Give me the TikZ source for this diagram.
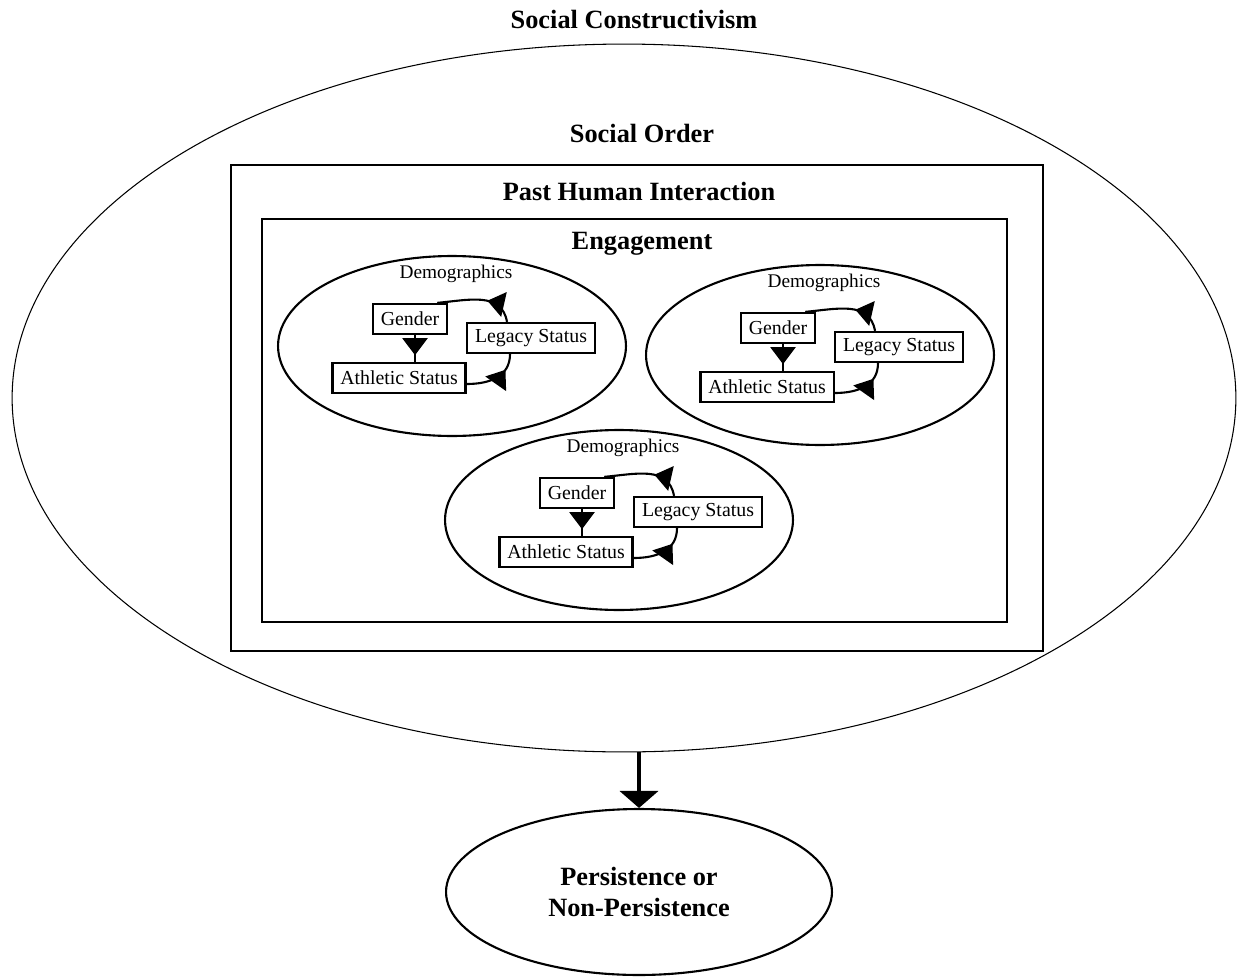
\documentclass[tikz,border=0pt]{standalone}
\usepackage{fontspec}
\setmainfont{Liberation Serif}
\usetikzlibrary{shapes.geometric,arrows.meta,decorations.markings,calc}
\newcommand\demogroup[3]{%
  \node[demo] (dm#1) at (#2,#3) {};
  \node[lbl] (dt#1) at ([shift={(4,-72)}]dm#1.center) {Demographics};
  \node[tbox] (gen#1) at ([shift={(-42,-27)}]dm#1.center) {Gender};
  \node[tbox] (leg#1) at ([shift={(79,-8)}]dm#1.center) {Legacy Status};
  \node[tbox] (ath#1) at ([shift={(-53,32)}]dm#1.center) {Athletic Status};
  \coordinate (gs#1) at ([xshift=0.1cm]gen#1.south);
  \draw[conn, midtip=0.75] (gs#1) -- (gs#1 |- ath#1.north);
  \draw[conn, midtip=0.72] ([yshift=-0.12cm]ath#1.east) to[out=0,in=-90,looseness=1.1] ([xshift=-0.42cm]leg#1.south);
  \draw[conn, midtip=0.38] ([xshift=-0.48cm]leg#1.north) to[out=100,in=5,looseness=1.1] ([xshift=-0.22cm]gen#1.north east);
}
\begin{document}
\begin{tikzpicture}[x=0.02cm,y=-0.02cm,
  title/.style={font=\fontsize{15}{18}\selectfont\bfseries, inner sep=0pt},
  demo/.style={ellipse, draw, line width=1.2pt, minimum width=6.96cm, minimum height=3.6cm, inner sep=0pt},
  lbl/.style={font=\fontsize{11}{13}\selectfont, inner sep=0pt},
  tbox/.style={draw, fill=white, line width=1.3pt, font=\fontsize{11.3}{13}\selectfont, inner xsep=4.5pt, inner ysep=0pt, minimum height=0.6cm},
  conn/.style={line width=1.2pt},
  bigarrow/.style={-{Triangle[width=0.76cm,length=0.34cm]}, line width=2.8pt},
  midtip/.style={postaction={decorate}, decoration={markings, mark=at position #1 with {\arrow{Triangle[width=0.5cm,length=0.34cm]}}}},
  frame/.style={draw, line width=1.5pt, inner sep=0pt}
]
\useasboundingbox (0,0) rectangle (1237,977);
\node[title] (sc) at (634,20) {Social Constructivism};
\node[ellipse, draw, line width=0.6pt, minimum width=24.48cm, minimum height=14.16cm, inner sep=0pt] (big) at (624,398) {};
\node[title] (so) at (642,133) {Social Order};
\node[frame, minimum width=16.24cm, minimum height=9.72cm] (outer) at (637,408) {};
\node[title] (phi) at (639,192) {Past Human Interaction};
\node[frame, minimum width=14.9cm, minimum height=8.06cm] (inner) at (634.5,420.5) {};
\node[title] (eng) at (642,244) {Engagement};
\demogroup{1}{452}{346}
\demogroup{2}{820}{355}
\demogroup{3}{619}{520}
\node[ellipse, draw, line width=1.2pt, minimum width=7.72cm, minimum height=3.32cm, inner sep=0pt, align=center, font=\fontsize{15}{17.6}\selectfont\bfseries] (res) at (639,892) {Persistence or\\Non-Persistence};
\coordinate (bs) at (res.north |- big.south);
\draw[bigarrow] (bs) -- (res.north);
\end{tikzpicture}
\end{document}
